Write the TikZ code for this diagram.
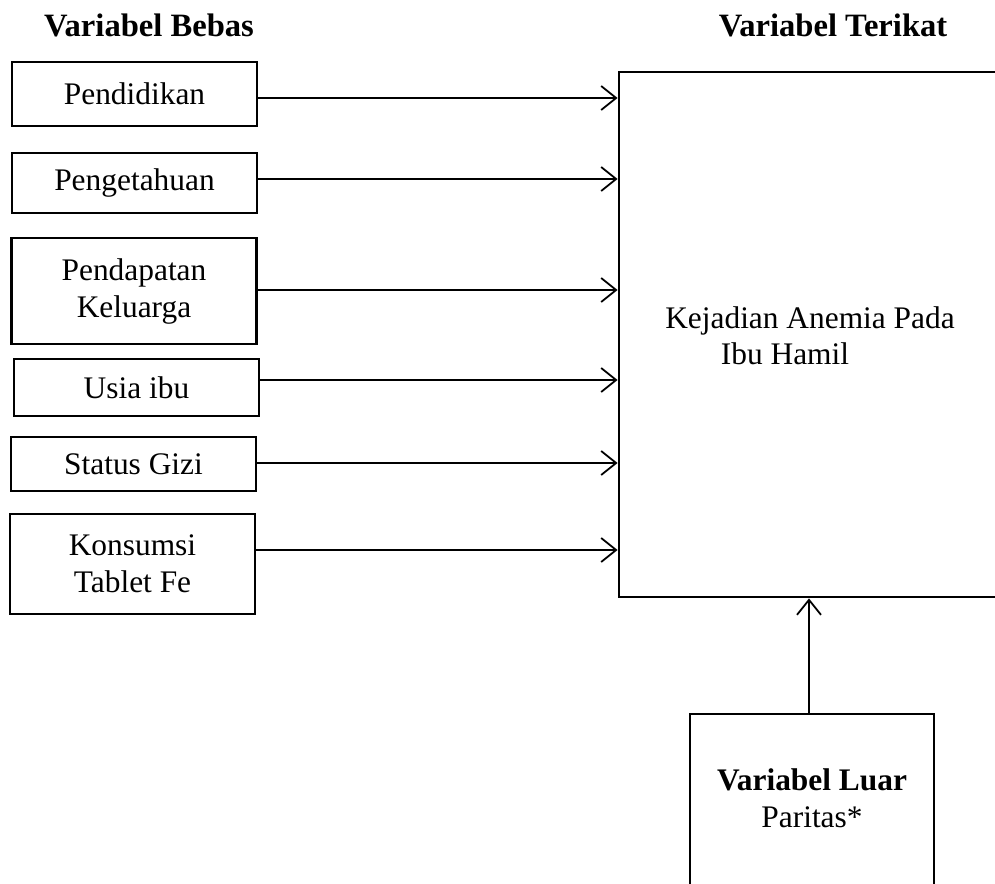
\documentclass[tikz,border=0pt]{standalone}
\usepackage{fontspec}
\setmainfont{Liberation Serif}
\usetikzlibrary{arrows.meta}
\begin{document}
\begin{tikzpicture}[x=0.5pt,y=-0.5pt,
  every node/.style={font=\fontsize{15.7}{18.5}\selectfont},
  vbox/.style={draw,line width=1.4pt,rectangle,inner sep=0pt,align=center,minimum width=122.5pt},
  conn/.style={line width=0.9pt,-{Straight Barb[length=7.5pt,width=12pt,line width=0.9pt]}},
  hdr/.style={font=\fontsize{16.3}{19}\selectfont\bfseries}]
\useasboundingbox (0,0) rectangle (995,883);
\node[hdr] (h1) at (149,25) {Variabel Bebas};
\node[hdr] (h2) at (833,25) {Variabel Terikat};
\node[vbox,minimum height=32pt] (b1) at (134.5,94) {Pendidikan};
\node[vbox,minimum height=30pt] (b2) at (134.5,183) {Pengetahuan};
\node[vbox,minimum height=53pt] (b3) at (134,291) {Pendapatan\\Keluarga};
\node[vbox,minimum height=28.5pt] (b4) at (136.5,387.5) {Usia ibu};
\node[vbox,minimum height=27pt] (b5) at (133.5,464) {Status Gizi};
\node[vbox,minimum height=50pt] (b6) at (132.5,564) {Konsumsi\\Tablet Fe};
\node[vbox,minimum width=195.5pt,minimum height=262.5pt] (dep) at (814.5,334.5) {};
\node (t1) at (810,321) {Kejadian Anemia Pada};
\node (t2) at (785,354) {Ibu Hamil};
\node[vbox,minimum width=122pt,minimum height=93pt] (ext) at (812,807) {};
\node[align=center] (t3) at (812,798) {\textbf{Variabel Luar}\\Paritas*};
\draw[conn] (b1.east |- 0,98) -- (dep.west |- 0,98);
\draw[conn] (b2.east |- 0,179) -- (dep.west |- 0,179);
\draw[conn] (b3.east |- 0,290) -- (dep.west |- 0,290);
\draw[conn] (b4.east |- 0,380) -- (dep.west |- 0,380);
\draw[conn] (b5.east |- 0,463) -- (dep.west |- 0,463);
\draw[conn] (b6.east |- 0,550) -- (dep.west |- 0,550);
\draw[conn] (ext.north -| 809,0) -- (dep.south -| 809,0);
\end{tikzpicture}
\end{document}
